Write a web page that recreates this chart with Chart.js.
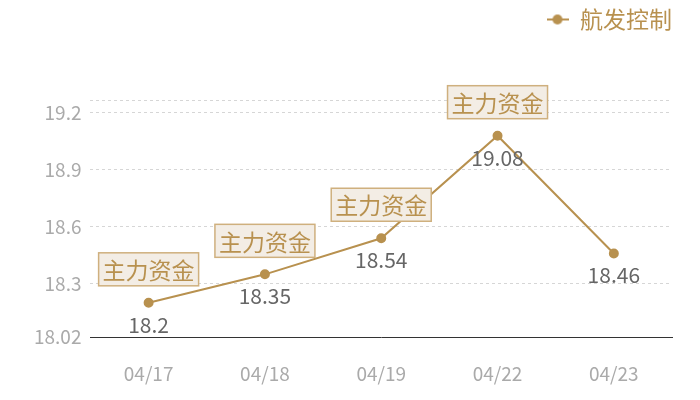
<!DOCTYPE html>
<html>
<head>
<meta charset="utf-8">
<script src="https://cdn.jsdelivr.net/npm/chart.js@4"></script>
<style>
    html, body { margin: 0; padding: 0; background: #fff; }
    #wrap { width: 700px; height: 400px; }
</style>
</head>
<body>
<div id="wrap"><canvas id="chart"></canvas></div>
<script>
// Data for the chart
const dates = ['04/17', '04/18', '04/19', '04/22', '04/23'];
const prices = [18.2, 18.35, 18.54, 19.08, 18.46];
const flowTags = ['主力资金', '主力资金', '主力资金', '主力资金', ''];
const yTicks = [18.02, 18.3, 18.6, 18.9, 19.2];
const yMin = 18.02;
const yMax = 19.268;

const gold = '#b8914f';
const font = '"Noto Sans CJK SC", "Noto Sans", sans-serif';

// small line-with-dot marker for the legend
function legendMarker() {
    const c = document.createElement('canvas');
    c.width = 22;
    c.height = 12;
    const g = c.getContext('2d');
    g.strokeStyle = gold;
    g.lineWidth = 2;
    g.beginPath();
    g.moveTo(0, 6);
    g.lineTo(22, 6);
    g.stroke();
    g.fillStyle = gold;
    g.beginPath();
    g.arc(11, 6, 5, 0, Math.PI * 2);
    g.fill();
    return c;
}

// extra room between legend and plot
const legendGap = {
    id: 'legendGap',
    beforeInit(chart) {
        const fit = chart.legend.fit;
        chart.legend.fit = function () {
            fit.call(this);
            this.height += 59;
        };
    }
};

// value under each point, tag box above it
const pointLabels = {
    id: 'pointLabels',
    afterDatasetsDraw(chart) {
        const ctx = chart.ctx;
        const meta = chart.getDatasetMeta(0);
        ctx.save();
        meta.data.forEach((pt, i) => {
            ctx.font = '21px ' + font;
            ctx.fillStyle = '#666';
            ctx.textAlign = 'center';
            ctx.textBaseline = 'middle';
            ctx.fillText(String(prices[i]), pt.x, pt.y + 22);

            if (flowTags[i]) {
                ctx.font = '23px ' + font;
                const w = ctx.measureText(flowTags[i]).width + 8;
                const h = 33;
                const bx = pt.x - w / 2;
                const by = pt.y - 17 - h;
                ctx.fillStyle = '#f3ede5';
                ctx.fillRect(bx, by, w, h);
                ctx.strokeStyle = '#cfb07e';
                ctx.lineWidth = 1.5;
                ctx.strokeRect(bx, by, w, h);
                ctx.fillStyle = gold;
                ctx.fillText(flowTags[i], pt.x, by + h / 2 + 1);
            }
        });
        ctx.restore();
    }
};

document.addEventListener('DOMContentLoaded', () => {
    const ctx = document.getElementById('chart').getContext('2d');
    new Chart(ctx, {
        type: 'line',
        data: {
            labels: dates,
            datasets: [{
                label: '航发控制',
                data: prices,
                borderColor: gold,
                backgroundColor: gold,
                borderWidth: 2,
                pointRadius: 4,
                pointHoverRadius: 4,
                tension: 0
            }]
        },
        options: {
            responsive: true,
            maintainAspectRatio: false,
            animation: false,
            layout: { padding: { left: 25, right: 28, top: 8, bottom: 0 } },
            plugins: {
                tooltip: { enabled: false },
                legend: {
                    position: 'top',
                    align: 'end',
                    labels: {
                        usePointStyle: true,
                        pointStyleWidth: 22,
                        color: gold,
                        font: { size: 23, family: font },
                        padding: 0,
                        generateLabels: () => [{
                            text: '航发控制',
                            fontColor: gold,
                            pointStyle: legendMarker(),
                            datasetIndex: 0
                        }]
                    }
                }
            },
            scales: {
                x: {
                    offset: true,
                    grid: { display: false, drawTicks: false },
                    border: { display: true, color: '#333', width: 1 },
                    ticks: {
                        color: '#aaa',
                        font: { size: 19, family: font },
                        padding: 25
                    },
                    afterFit: scale => { scale.height = 63; }
                },
                y: {
                    min: yMin,
                    max: yMax,
                    afterBuildTicks: axis => {
                        axis.ticks = yTicks.concat([yMax]).map(v => ({ value: v }));
                    },
                    grid: { color: '#d6d6d6', lineWidth: 1, drawTicks: false },
                    border: { display: false, dash: [3, 3] },
                    ticks: {
                        color: '#aaa',
                        font: { size: 19, family: font },
                        padding: 9,
                        callback: v => (yTicks.includes(v) ? String(v) : '')
                    }
                }
            }
        },
        plugins: [legendGap, pointLabels]
    });
});
</script>
</body>
</html>
